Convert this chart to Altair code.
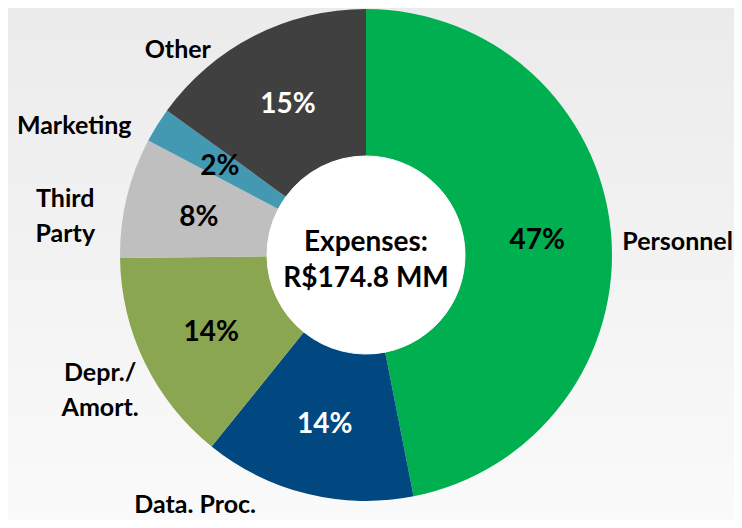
import math
import altair as alt
import pandas as pd

# ---- data ----
categories = ["Personnel", "Data. Proc.", "Depr./Amort.", "Third Party", "Marketing", "Other"]
outer_labels = ["Personnel", "Data. Proc.", "Depr./\nAmort.", "Third\nParty", "Marketing", "Other"]
values = [46.9, 13.9, 14.0, 7.9, 2.3, 15.0]
pct_labels = ["47%", "14%", "14%", "8%", "2%", "15%"]
center_text = "Expenses:\nR$174.8 MM"

# ---- styles ----
colors = ["#00AF50", "#00487F", "#8AA650", "#BFBFBF", "#4399B2", "#404040"]
pct_colors = ["#000000", "#FFFFFF", "#000000", "#000000", "#000000", "#FFFFFF"]
label_offsets = [(13, 16), (-99, -41), (4, -13), (-9, 14), (-37, 29), (-52, 62)]
FONT = "Lato"

df = pd.DataFrame({
    "idx": list(range(len(categories))),
    "cat": categories,
    "label": outer_labels,
    "value": values,
    "pct": pct_labels,
    "pcol": pct_colors,
})

W, H = 716, 494
PAD_R, PAD_B = 10, 18
total = sum(values)
theta_scale = alt.Scale(domain=[0, total], range=[0, 2 * math.pi])

grad = alt.LinearGradient(
    gradient="linear",
    stops=[alt.GradientStop(color="#EBEBEB", offset=0), alt.GradientStop(color="#FAFAFA", offset=1)],
    x1=0, x2=0, y1=0, y2=1,
)
bg = alt.Chart(pd.DataFrame({"k": [0]})).mark_rect(color=grad).encode(
    x=alt.value(0), x2=alt.value(W + PAD_R), y=alt.value(0), y2=alt.value(H + PAD_B)
)

ring = alt.Chart(df).mark_arc(radius=246, innerRadius=98).encode(
    theta=alt.Theta("value:Q", stack=True, scale=theta_scale),
    color=alt.Color("cat:N", scale=alt.Scale(domain=categories, range=colors), legend=None),
    order=alt.Order("idx:Q"),
)

hole = alt.Chart(df).mark_arc(radius=99, color="#FFFFFF", stroke="#FFFFFF", strokeWidth=1).encode(
    theta=alt.Theta("value:Q", stack=True, scale=theta_scale),
    order=alt.Order("idx:Q"),
)

base = alt.Chart(df).transform_window(
    cum="sum(value)", sort=[alt.SortField("idx")]
).transform_calculate(mid="datum.cum - datum.value / 2")

pct = base.mark_text(radius=172, dy=3, fontSize=28, fontWeight="bold", font=FONT).encode(
    theta=alt.Theta("mid:Q", stack=False, scale=theta_scale),
    text="pct:N",
    color=alt.Color("pcol:N", scale=None),
)

outers = []
for i, (dx, dy) in enumerate(label_offsets):
    outers.append(
        base.transform_filter(alt.datum.idx == i).mark_text(
            radius=300, dx=dx, dy=dy, fontSize=25, fontWeight="bold", font=FONT,
            lineBreak="\n", lineHeight=35, color="#000000",
        ).encode(
            theta=alt.Theta("mid:Q", stack=False, scale=theta_scale),
            text="label:N",
        )
    )

center = alt.Chart(pd.DataFrame({"t": [center_text]})).mark_text(
    fontSize=28, fontWeight="bold", font=FONT, lineBreak="\n", lineHeight=36, dy=-12, color="#000000"
).encode(
    x=alt.value(W / 2), y=alt.value(H / 2), text="t:N"
)

chart = alt.layer(bg, ring, hole, pct, *outers, center).properties(
    width=W, height=H,
    padding={"left": 0, "top": 0, "right": PAD_R, "bottom": PAD_B},
    autosize=alt.AutoSizeParams(type="none"),
    background="#F6F6F6",
).configure_view(strokeWidth=0)

chart.save("out.html", embed_options={"renderer": "svg", "actions": False})
